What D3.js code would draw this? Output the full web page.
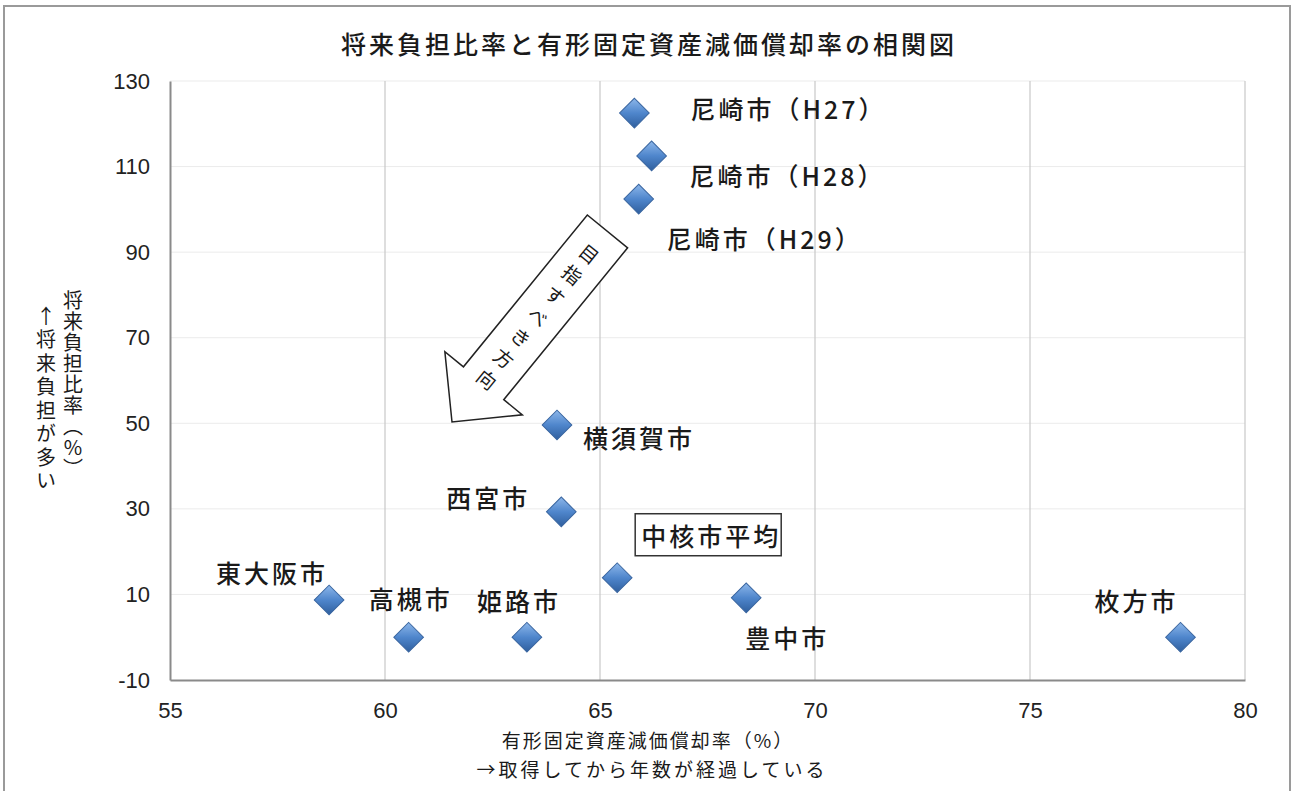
<!DOCTYPE html>
<html>
<head>
<meta charset="utf-8">
<script src="https://cdn.jsdelivr.net/npm/d3@7.9.0/dist/d3.min.js"></script>
<style>
  body { margin: 0; background: #fff; }
  svg { display: block; }
  text { font-family: "Noto Sans CJK JP", "Noto Sans", sans-serif; fill: #1a1a1a; }
  .tick text { font-family: "Liberation Sans", Arial, sans-serif; font-size: 22px; fill: #222; }
</style>
</head>
<body>
<svg id="chart" width="1296" height="791"></svg>
<script>
// data
const cities = ['尼崎市（H27）', '尼崎市（H28）', '尼崎市（H29）', '横須賀市', '西宮市',
  '中核市平均', '豊中市', '東大阪市', '高槻市', '姫路市', '枚方市'];
const depreciationRate = [65.8, 66.2, 65.9, 64.0, 64.1, 65.4, 68.4, 58.7, 60.55, 63.3, 78.5];
const futureBurdenRate = [122.5, 112.5, 102.4, 49.6, 29.3, 13.9, 9.2, 8.7, 0, 0, 0];
const xTicks = [55, 60, 65, 70, 75, 80];
const yTicks = [-10, 10, 30, 50, 70, 90, 110, 130];

// label placement relative to each marker: dx, dy, anchor
const labelOffsets = [
  [56, -5, 'start'], [38, 19, 'start'], [28, 39, 'start'], [26, 12, 'start'],
  [-31, -15, 'end'], [94, -43, 'middle'], [-1, 39, 'start'], [-1, -28, 'end'],
  [2, -39, 'middle'], [-8, -37, 'middle'], [-44, -37, 'middle']
];

const svg = d3.select('#chart');
const plot = { left: 170, right: 1245, top: 81, bottom: 680 };

// outer frame
svg.append('rect')
  .attr('x', 4).attr('y', 6).attr('width', 1286).attr('height', 800)
  .attr('fill', 'none').attr('stroke', '#9a9a9a').attr('stroke-width', 2);

const x = d3.scaleLinear().domain([55, 80]).range([plot.left, plot.right]);
const y = d3.scaleLinear().domain([-10, 130]).range([plot.bottom, plot.top]);

// grid
svg.append('g')
  .selectAll('line')
  .data(yTicks.slice(1))
  .join('line')
  .attr('x1', plot.left).attr('x2', plot.right)
  .attr('y1', d => y(d)).attr('y2', d => y(d))
  .attr('stroke', '#ebebeb').attr('stroke-width', 1);

svg.append('g')
  .selectAll('line')
  .data(xTicks.slice(1))
  .join('line')
  .attr('x1', d => x(d)).attr('x2', d => x(d))
  .attr('y1', plot.top).attr('y2', plot.bottom)
  .attr('stroke', '#c8c8c8').attr('stroke-width', 1.2);

// axes
const xAxis = svg.append('g')
  .attr('transform', `translate(0,${plot.bottom})`)
  .call(d3.axisBottom(x).tickValues(xTicks).tickSize(0).tickPadding(22).tickFormat(d => String(d)));
xAxis.select('.domain').attr('stroke', '#8a8a8a').attr('stroke-width', 2);

const yAxis = svg.append('g')
  .attr('transform', `translate(${plot.left},0)`)
  .call(d3.axisLeft(y).tickValues(yTicks).tickSize(0).tickPadding(20).tickFormat(d => String(d)));
yAxis.select('.domain').attr('stroke', '#8a8a8a').attr('stroke-width', 2);

// title
svg.append('text')
  .attr('x', 649).attr('y', 54)
  .attr('text-anchor', 'middle')
  .style('font-size', '25px').style('font-weight', 500).style('letter-spacing', '3px')
  .text('将来負担比率と有形固定資産減価償却率の相関図');

// x axis title
svg.append('text')
  .attr('x', 648).attr('y', 748)
  .attr('text-anchor', 'middle')
  .style('font-size', '19px').style('letter-spacing', '2px')
  .text('有形固定資産減価償却率（%）');
svg.append('text')
  .attr('x', 652).attr('y', 777)
  .attr('text-anchor', 'middle')
  .style('font-size', '19px').style('letter-spacing', '3px')
  .text('→取得してから年数が経過している');

// y axis title: two vertical columns
function verticalText(str, cx, y0, spacing) {
  svg.append('text')
    .attr('x', cx).attr('y', y0)
    .style('writing-mode', 'vertical-rl')
    .style('text-orientation', 'upright')
    .style('font-size', '20px')
    .style('letter-spacing', spacing + 'px')
    .text(str);
}
verticalText('将来負担比率（%）', 73, 290, 1);
verticalText('↑将来負担が多い', 46, 306, 3.5);

// "目指すべき方向" block arrow
const arrow = svg.append('g')
  .attr('transform', 'translate(452,422) rotate(-50.8)');
arrow.append('path')
  .attr('d', d3.line()([[0, 0], [50, -50], [50, -26], [246, -26], [246, 26], [50, 26], [50, 50]]) + 'Z')
  .attr('fill', '#fff').attr('stroke', '#222').attr('stroke-width', 1.5);
arrow.selectAll('text.lbl')
  .data(Array.from('目指すべき方向'))
  .join('text')
  .attr('class', 'lbl')
  .attr('transform', (d, i) => `translate(${218 - i * 27},0) rotate(90)`)
  .attr('text-anchor', 'middle')
  .attr('dominant-baseline', 'central')
  .style('font-size', '19px')
  .text(d => d);

// markers
const defs = svg.append('defs');
const grad = defs.append('linearGradient')
  .attr('id', 'dia').attr('x1', 0).attr('y1', 0).attr('x2', 1).attr('y2', 1);
grad.append('stop').attr('offset', '0%').attr('stop-color', '#8db7ea');
grad.append('stop').attr('offset', '50%').attr('stop-color', '#4f86cc');
grad.append('stop').attr('offset', '100%').attr('stop-color', '#2f5f9e');

const pts = cities.map((c, i) => ({
  name: c, x: depreciationRate[i], y: futureBurdenRate[i], off: labelOffsets[i]
}));

svg.append('g')
  .selectAll('path')
  .data(pts)
  .join('path')
  .attr('d', d3.symbol(d3.symbolSquare, 440)())
  .attr('transform', d => `translate(${x(d.x)},${y(d.y)}) rotate(45)`)
  .attr('fill', 'url(#dia)')
  .attr('stroke', '#3a66a0').attr('stroke-width', 1);

// labels
const labels = svg.append('g')
  .selectAll('text')
  .data(pts)
  .join('text')
  .attr('x', d => x(d.x) + d.off[0])
  .attr('y', d => y(d.y) + d.off[1])
  .attr('text-anchor', d => d.off[2])
  .attr('dominant-baseline', 'central')
  .style('font-size', '25px').style('font-weight', 500).style('letter-spacing', '3px')
  .text(d => d.name);

// box around the average label
labels.filter(d => d.name === '中核市平均').each(function () {
  const b = this.getBBox();
  svg.append('rect')
    .attr('x', b.x - 6).attr('y', b.y - 3)
    .attr('width', b.width + 6).attr('height', b.height + 6)
    .attr('fill', 'none').attr('stroke', '#333').attr('stroke-width', 1.5);
});
</script>
</body>
</html>
